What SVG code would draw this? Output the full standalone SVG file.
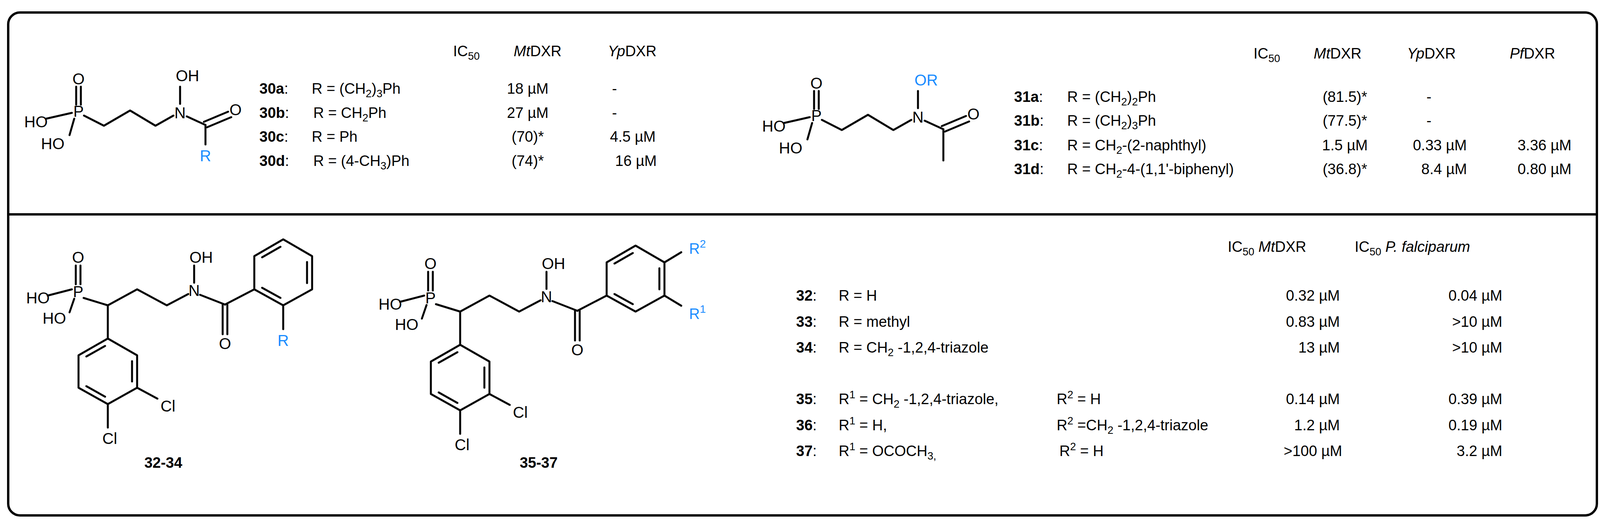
<svg xmlns="http://www.w3.org/2000/svg" width="4114" height="1342" viewBox="0 0 4114 1342">
<style>
text{font-family:"Liberation Sans",Arial,sans-serif;font-size:38px;fill:#000}
.a{font-size:40px;text-anchor:middle}
.b{font-weight:bold}
.m{text-anchor:middle}
.e{text-anchor:end}
.blue{fill:#1a8cff}
.i{font-style:italic}
.bd line,.bd polyline,.bd polygon{stroke:#000;stroke-width:5;fill:none;stroke-linecap:round;stroke-linejoin:round}
</style>
<rect x="21" y="32" width="4067" height="1288" rx="30" fill="#fff" stroke="#000" stroke-width="6"/>
<line x1="21" y1="549" x2="4088" y2="549" stroke="#000" stroke-width="6"/>

<g id="mol30">
<g class="bd">
<line x1="195" y1="222" x2="195" y2="268"/><line x1="207" y1="222" x2="207" y2="268"/>
<line x1="118" y1="304" x2="184" y2="289"/><line x1="190" y1="304" x2="178" y2="346"/>
<polyline points="215,296 266,322 333,283 398,322 444,296"/>
<line x1="461" y1="222" x2="461" y2="266"/>
<line x1="478" y1="298" x2="526" y2="320"/>
<line x1="522" y1="312" x2="584" y2="286"/><line x1="530" y1="326" x2="592" y2="300"/>
<line x1="526" y1="320" x2="526" y2="370"/>
</g>
<text class="a" x="201" y="216">O</text><text class="a" x="201" y="299">P</text>
<text class="a" x="92" y="326">HO</text><text class="a" x="135" y="382">HO</text>
<text class="a" x="461" y="303">N</text><text class="a" x="480" y="208">OH</text>
<text class="a" x="603" y="295">O</text><text class="a blue" x="526" y="413">R</text>
</g>

<g id="table30">
<text x="1160" y="144">IC<tspan font-size="27" dy="9">50</tspan></text>
<text x="1315" y="144"><tspan class="i">Mt</tspan>DXR</text>
<text x="1556" y="144"><tspan class="i">Yp</tspan>DXR</text>
<text x="664" y="240"><tspan class="b">30a</tspan>:</text><text x="798" y="240">R = (CH<tspan font-size="27" dy="9">2</tspan><tspan dy="-9">)</tspan><tspan font-size="27" dy="9">3</tspan><tspan dy="-9">Ph</tspan></text>
<text x="664" y="302"><tspan class="b">30b</tspan>:</text><text x="802" y="302">R = CH<tspan font-size="27" dy="9">2</tspan><tspan dy="-9">Ph</tspan></text>
<text x="664" y="363"><tspan class="b">30c</tspan>:</text><text x="798" y="363">R = Ph</text>
<text x="664" y="425"><tspan class="b">30d</tspan>:</text><text x="802" y="425">R = (4-CH<tspan font-size="27" dy="9">3</tspan><tspan dy="-9">)Ph</tspan></text>
<text class="m" x="1351" y="240">18 µM</text><text class="m" x="1351" y="302">27 µM</text>
<text class="m" x="1351" y="363">(70)*</text><text class="m" x="1351" y="425">(74)*</text>
<text class="m" x="1573" y="240">-</text><text class="m" x="1573" y="302">-</text>
<text class="m" x="1620" y="363">4.5 µM</text><text class="m" x="1628" y="425">16 µM</text>
</g>

<g id="mol31" transform="translate(1889,11)">
<g class="bd">
<line x1="195" y1="222" x2="195" y2="268"/><line x1="207" y1="222" x2="207" y2="268"/>
<line x1="118" y1="304" x2="184" y2="289"/><line x1="190" y1="304" x2="178" y2="346"/>
<polyline points="215,296 266,322 333,283 398,322 444,296"/>
<line x1="461" y1="222" x2="461" y2="266"/>
<line x1="478" y1="298" x2="526" y2="320"/>
<line x1="522" y1="312" x2="584" y2="286"/><line x1="530" y1="326" x2="592" y2="300"/>
<line x1="526" y1="320" x2="526" y2="400"/>
</g>
<text class="a" x="201" y="216">O</text><text class="a" x="201" y="299">P</text>
<text class="a" x="92" y="326">HO</text><text class="a" x="135" y="382">HO</text>
<text class="a" x="461" y="303">N</text><text class="a blue" x="482" y="208">OR</text>
<text class="a" x="603" y="295">O</text>
</g>

<g id="table31">
<text x="3209" y="150">IC<tspan font-size="27" dy="9">50</tspan></text>
<text x="3363" y="150"><tspan class="i">Mt</tspan>DXR</text>
<text x="3602" y="150"><tspan class="i">Yp</tspan>DXR</text>
<text x="3865" y="150"><tspan class="i">Pf</tspan>DXR</text>
<text x="2596" y="261"><tspan class="b">31a</tspan>:</text><text x="2732" y="261">R = (CH<tspan font-size="27" dy="9">2</tspan><tspan dy="-9">)</tspan><tspan font-size="27" dy="9">2</tspan><tspan dy="-9">Ph</tspan></text>
<text x="2596" y="322"><tspan class="b">31b</tspan>:</text><text x="2732" y="322">R = (CH<tspan font-size="27" dy="9">2</tspan><tspan dy="-9">)</tspan><tspan font-size="27" dy="9">3</tspan><tspan dy="-9">Ph</tspan></text>
<text x="2596" y="385"><tspan class="b">31c</tspan>:</text><text x="2732" y="385">R = CH<tspan font-size="27" dy="9">2</tspan><tspan dy="-9">-(2-naphthyl)</tspan></text>
<text x="2596" y="446"><tspan class="b">31d</tspan>:</text><text x="2732" y="446">R = CH<tspan font-size="27" dy="9">2</tspan><tspan dy="-9">-4-(1,1'-biphenyl)</tspan></text>
<text class="m" x="3443" y="261">(81.5)*</text><text class="m" x="3443" y="322">(77.5)*</text>
<text class="m" x="3443" y="385">1.5 µM</text><text class="m" x="3443" y="446">(36.8)*</text>
<text class="m" x="3658" y="261">-</text><text class="m" x="3658" y="322">-</text>
<text class="m" x="3686" y="385">0.33 µM</text><text class="m" x="3697" y="446">8.4 µM</text>
<text class="m" x="3954" y="385">3.36 µM</text><text class="m" x="3954" y="446">0.80 µM</text>
</g>

<g id="mol32-34">
<g class="bd">
<line x1="194" y1="680" x2="194" y2="728"/><line x1="206" y1="680" x2="206" y2="728"/>
<line x1="122" y1="757" x2="184" y2="741"/><line x1="190" y1="765" x2="178" y2="800"/>
<polyline points="214,763 276,782 351,741 427,782 482,753"/>
<line x1="497" y1="680" x2="497" y2="724"/>
<line x1="512" y1="755" x2="576" y2="780"/>
<line x1="570" y1="780" x2="570" y2="856"/><line x1="582" y1="780" x2="582" y2="856"/>
<line x1="576" y1="780" x2="651" y2="741"/>
<polygon points="651,741 651,656 725,613 799,656 799,741 725,782"/>
<line x1="671" y1="737" x2="718" y2="763"/><line x1="671" y1="659" x2="718" y2="632"/><line x1="786" y1="671" x2="786" y2="725"/>
<line x1="725" y1="782" x2="725" y2="843"/>
<line x1="276" y1="782" x2="276" y2="867"/>
<polygon points="276,867 351,910 351,993 276,1035 201,993 201,910"/>
<line x1="221" y1="913" x2="269" y2="886"/><line x1="338" y1="925" x2="338" y2="977"/><line x1="269" y1="1016" x2="221" y2="989"/>
<line x1="351" y1="993" x2="403" y2="1021"/>
<line x1="276" y1="1035" x2="276" y2="1095"/>
</g>
<text class="a" x="200" y="673">O</text><text class="a" x="200" y="761">P</text>
<text class="a" x="97" y="777">HO</text><text class="a" x="139" y="829">HO</text>
<text class="a" x="497" y="758">N</text><text class="a" x="515" y="673">OH</text>
<text class="a" x="576" y="894">O</text><text class="a blue" x="725" y="886">R</text>
<text class="a" x="430" y="1054">Cl</text><text class="a" x="281" y="1137">Cl</text>
<text class="b m" x="418" y="1198">32-34</text>
</g>

<g id="mol35-37">
<g class="bd" transform="translate(902,16)">
<line x1="194" y1="680" x2="194" y2="728"/><line x1="206" y1="680" x2="206" y2="728"/>
<line x1="122" y1="757" x2="184" y2="741"/><line x1="190" y1="765" x2="178" y2="800"/>
<polyline points="214,763 276,782 351,741 427,782 482,753"/>
<line x1="497" y1="680" x2="497" y2="724"/>
<line x1="512" y1="755" x2="576" y2="780"/>
<line x1="570" y1="780" x2="570" y2="856"/><line x1="582" y1="780" x2="582" y2="856"/>
<line x1="576" y1="780" x2="651" y2="741"/>
<polygon points="651,741 651,656 725,613 799,656 799,741 725,782"/>
<line x1="671" y1="737" x2="718" y2="763"/><line x1="671" y1="659" x2="718" y2="632"/><line x1="786" y1="671" x2="786" y2="725"/>
<line x1="799" y1="656" x2="842" y2="630"/><line x1="799" y1="741" x2="842" y2="767"/>
<line x1="276" y1="782" x2="276" y2="867"/>
<polygon points="276,867 351,910 351,993 276,1035 201,993 201,910"/>
<line x1="221" y1="913" x2="269" y2="886"/><line x1="338" y1="925" x2="338" y2="977"/><line x1="269" y1="1016" x2="221" y2="989"/>
<line x1="351" y1="993" x2="403" y2="1021"/>
<line x1="276" y1="1035" x2="276" y2="1095"/>
</g>
<g transform="translate(902,16)">
<text class="a" x="200" y="673">O</text><text class="a" x="200" y="761">P</text>
<text class="a" x="97" y="777">HO</text><text class="a" x="139" y="829">HO</text>
<text class="a" x="497" y="758">N</text><text class="a" x="515" y="673">OH</text>
<text class="a" x="576" y="894">O</text>
<text class="a" x="430" y="1054">Cl</text><text class="a" x="281" y="1137">Cl</text>
<text class="blue" x="862" y="634" font-size="40">R<tspan font-size="28" dy="-16">2</tspan></text>
<text class="blue" x="862" y="801" font-size="40">R<tspan font-size="28" dy="-16">1</tspan></text>
</g>
<text class="b m" x="1379" y="1198">35-37</text>
</g>

<g id="table32-37">
<text x="3143" y="645">IC<tspan font-size="27" dy="9">50</tspan><tspan dy="-9" class="i"> Mt</tspan>DXR</text>
<text x="3468" y="645">IC<tspan font-size="27" dy="9">50</tspan><tspan dy="-9" class="i"> P. falciparum</tspan></text>
<text x="2038" y="770"><tspan class="b">32</tspan>:</text><text x="2147" y="770">R = H</text>
<text x="2038" y="837"><tspan class="b">33</tspan>:</text><text x="2147" y="837">R = methyl</text>
<text x="2038" y="903"><tspan class="b">34</tspan>:</text><text x="2147" y="903">R = CH<tspan font-size="27" dy="9">2</tspan><tspan dy="-9"> -1,2,4-triazole</tspan></text>
<text x="2038" y="1035"><tspan class="b">35</tspan>:</text><text x="2147" y="1035">R<tspan font-size="27" dy="-15">1</tspan><tspan dy="15"> = CH</tspan><tspan font-size="27" dy="9">2</tspan><tspan dy="-9"> -1,2,4-triazole,</tspan></text>
<text x="2705" y="1035">R<tspan font-size="27" dy="-15">2</tspan><tspan dy="15"> = H</tspan></text>
<text x="2038" y="1102"><tspan class="b">36</tspan>:</text><text x="2147" y="1102">R<tspan font-size="27" dy="-15">1</tspan><tspan dy="15"> = H,</tspan></text>
<text x="2705" y="1102">R<tspan font-size="27" dy="-15">2</tspan><tspan dy="15"> =CH</tspan><tspan font-size="27" dy="9">2</tspan><tspan dy="-9"> -1,2,4-triazole</tspan></text>
<text x="2038" y="1168"><tspan class="b">37</tspan>:</text><text x="2147" y="1168">R<tspan font-size="27" dy="-15">1</tspan><tspan dy="15"> = OCOCH</tspan><tspan font-size="27" dy="9">3,</tspan></text>
<text x="2712" y="1168">R<tspan font-size="27" dy="-15">2</tspan><tspan dy="15"> = H</tspan></text>
<text class="e" x="3430" y="770">0.32 µM</text><text class="e" x="3430" y="837">0.83 µM</text><text class="e" x="3430" y="903">13 µM</text>
<text class="e" x="3430" y="1035">0.14 µM</text><text class="e" x="3430" y="1102">1.2 µM</text><text class="e" x="3436" y="1168">&gt;100 µM</text>
<text class="e" x="3846" y="770">0.04 µM</text><text class="e" x="3846" y="837">&gt;10 µM</text><text class="e" x="3846" y="903">&gt;10 µM</text>
<text class="e" x="3846" y="1035">0.39 µM</text><text class="e" x="3846" y="1102">0.19 µM</text><text class="e" x="3846" y="1168">3.2 µM</text>
</g>
</svg>
